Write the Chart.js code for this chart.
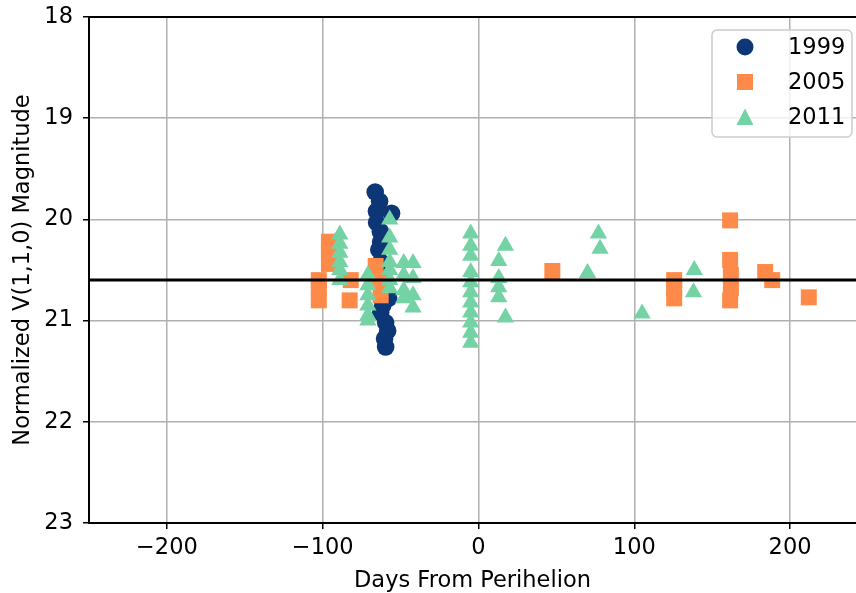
<!DOCTYPE html>
<html>
<head>
<meta charset="utf-8">
<script src="https://cdn.jsdelivr.net/npm/chart.js@4.4.1/dist/chart.umd.min.js"></script>
<style>
  html, body { margin: 0; padding: 0; background: #ffffff; }
  #wrap { width: 856px; height: 593px; position: relative; }
</style>
</head>
<body>
<div id="wrap"><canvas id="c" width="856" height="593"></canvas></div>
<script>
// ---- data ----
const seriesNames = ['1999', '2005', '2011'];

const days1999 = [-66.3, -63.5, -65.5, -65.4, -55.8, -63, -62.8, -64, -62.8, -61.5, -60, -60.9, -57.7, -61.5, -62.8, -59.6, -58.3, -60.3, -59.6];
const mag1999  = [19.73, 19.82, 19.92, 20.03, 19.94, 20.12, 20.22, 20.3, 20.42, 20.5, 20.6, 20.7, 20.78, 20.85, 20.92, 21.02, 21.1, 21.18, 21.26];

const days2005 = [-102.5, -102.5, -102.5, -96, -96, -96, -82, -82.7, -66, -64, -62.8, 47.4, 125.6, 125.6, 125.6, 161.5, 161.5, 162, 162, 161.5, 184, 188.5, 212];
const mag2005  = [20.6, 20.68, 20.8, 20.22, 20.32, 20.44, 20.6, 20.8, 20.46, 20.6, 20.75, 20.51, 20.6, 20.68, 20.78, 20.01, 20.4, 20.55, 20.68, 20.8, 20.52, 20.6, 20.77];

const days2011 = [-89, -89, -89, -89, -89, -89,
                  -71, -71, -71, -71, -71, -71,
                  -57, -57, -57, -57, -57, -57, -57,
                  -48, -48, -48, -48,
                  -42, -42, -42, -42,
                  -5, -5, -5, -5, -5, -5, -5, -5, -5, -5, -5,
                  13, 13, 13, 13, 17.3, 17.3,
                  70, 77, 78, 105, 138.5, 138];
const mag2011  = [20.15, 20.24, 20.33, 20.42, 20.5, 20.6,
                  20.55, 20.65, 20.75, 20.85, 20.95, 21.0,
                  20.0, 20.18, 20.3, 20.42, 20.5, 20.6, 20.68,
                  20.43, 20.55, 20.7, 20.78,
                  20.43, 20.58, 20.75, 20.87,
                  20.14, 20.26, 20.36, 20.52, 20.62, 20.72, 20.82, 20.92, 21.02, 21.12, 21.22,
                  20.41, 20.58, 20.67, 20.77, 20.26, 20.97,
                  20.53, 20.14, 20.29, 20.93, 20.5, 20.72];

const referenceMag = 20.6;
const xTicks = [-200, -100, 0, 100, 200];
const yTicks = [18, 19, 20, 21, 22, 23];
const xRange = [-250, 242.3];
const yRange = [18, 23];

// ---- styles ----
const colors = { '1999': '#0d3677', '2005': '#fd8a48', '2011': '#74d3a5' };
const FONT = 'DejaVu Sans';
const FS = 22.5;

function pts(xs, ys) { return xs.map((x, i) => ({ x: x, y: ys[i] })); }

const topSpine = {
  id: 'topSpine',
  afterDraw(chart) {
    const { ctx, chartArea } = chart;
    ctx.save();
    ctx.strokeStyle = '#000';
    ctx.lineWidth = 2;
    ctx.beginPath();
    ctx.moveTo(chartArea.left - 1, chartArea.top);
    ctx.lineTo(chartArea.right, chartArea.top);
    ctx.stroke();
    ctx.restore();
  }
};

const boxLegend = {
  id: 'boxLegend',
  afterDraw(chart) {
    const ctx = chart.ctx;
    const bx = 712, by = 30, bw = 140, bh = 107, r = 5;
    ctx.save();
    ctx.beginPath();
    ctx.moveTo(bx + r, by);
    ctx.lineTo(bx + bw - r, by); ctx.arcTo(bx + bw, by, bx + bw, by + r, r);
    ctx.lineTo(bx + bw, by + bh - r); ctx.arcTo(bx + bw, by + bh, bx + bw - r, by + bh, r);
    ctx.lineTo(bx + r, by + bh); ctx.arcTo(bx, by + bh, bx, by + bh - r, r);
    ctx.lineTo(bx, by + r); ctx.arcTo(bx, by, bx + r, by, r);
    ctx.closePath();
    ctx.fillStyle = 'rgba(255,255,255,0.8)';
    ctx.fill();
    ctx.strokeStyle = '#cccccc';
    ctx.lineWidth = 1.5;
    ctx.stroke();

    const mx = 745, tx = 788;
    const rows = [47, 82, 117];
    seriesNames.forEach((name, i) => {
      const y = rows[i];
      ctx.fillStyle = colors[name];
      ctx.beginPath();
      if (i === 0) {
        ctx.arc(mx, y, 8.5, 0, Math.PI * 2);
      } else if (i === 1) {
        ctx.rect(mx - 8, y - 8, 16, 16);
      } else {
        ctx.moveTo(mx, y - 8.5);
        ctx.lineTo(mx + 8.5, y + 8);
        ctx.lineTo(mx - 8.5, y + 8);
        ctx.closePath();
      }
      ctx.fill();
      ctx.fillStyle = '#000';
      ctx.font = FS + 'px "' + FONT + '"';
      ctx.textBaseline = 'middle';
      ctx.textAlign = 'left';
      ctx.fillText(name, tx, y + 1);
    });
    ctx.restore();
  }
};

new Chart(document.getElementById('c'), {
  type: 'scatter',
  data: {
    datasets: [
      {
        type: 'line',
        label: 'mean',
        data: [{ x: xRange[0], y: referenceMag }, { x: xRange[1], y: referenceMag }],
        borderColor: '#000',
        borderWidth: 3,
        pointRadius: 0,
        fill: false,
        order: 0
      },
      {
        label: seriesNames[2],
        data: pts(days2011, mag2011),
        pointStyle: 'triangle',
        pointRadius: 10,
        backgroundColor: colors['2011'],
        borderColor: colors['2011'],
        borderWidth: 0,
        order: 1
      },
      {
        label: seriesNames[1],
        data: pts(days2005, mag2005),
        pointStyle: 'rect',
        pointRadius: 11.3,
        backgroundColor: colors['2005'],
        borderColor: colors['2005'],
        borderWidth: 0,
        order: 2
      },
      {
        label: seriesNames[0],
        data: pts(days1999, mag1999),
        pointStyle: 'circle',
        pointRadius: 8.8,
        backgroundColor: colors['1999'],
        borderColor: colors['1999'],
        borderWidth: 0,
        order: 3
      }
    ]
  },
  options: {
    responsive: false,
    animation: false,
    devicePixelRatio: 1,
    layout: { autoPadding: false, padding: { top: 17, right: 0, left: 0, bottom: 0 } },
    plugins: {
      legend: { display: false },
      tooltip: { enabled: false }
    },
    scales: {
      x: {
        type: 'linear',
        min: xRange[0],
        max: xRange[1],
        afterBuildTicks(scale) { scale.ticks = xTicks.map(v => ({ value: v })); },
        afterFit(scale) { scale.height = 70; scale.paddingLeft = 0; scale.paddingRight = 0; },
        ticks: {
          color: '#000',
          font: { family: FONT, size: FS },
          padding: 6,
          maxRotation: 0,
          callback: v => (v < 0 ? '\u2212' + Math.abs(v) : String(v))
        },
        grid: { color: '#b0b0b0', lineWidth: 1.5, tickColor: '#000', tickLength: 6, drawTicks: true },
        border: { display: true, color: '#000', width: 2 },
        title: {
          display: true,
          text: 'Days From Perihelion',
          color: '#000',
          font: { family: FONT, size: FS },
          padding: { top: 0, bottom: -2 }
        }
      },
      y: {
        type: 'linear',
        reverse: true,
        min: yRange[0],
        max: yRange[1],
        afterBuildTicks(scale) { scale.ticks = yTicks.map(v => ({ value: v })); },
        afterFit(scale) { scale.width = 89; scale.paddingTop = 0; scale.paddingBottom = 0; },
        ticks: {
          color: '#000',
          font: { family: FONT, size: FS },
          padding: 10,
          callback: v => String(v)
        },
        grid: { color: '#b0b0b0', lineWidth: 1.5, tickColor: '#000', tickLength: 6, drawTicks: true },
        border: { display: true, color: '#000', width: 2 },
        title: {
          display: true,
          text: 'Normalized V(1,1,0) Magnitude',
          color: '#000',
          font: { family: FONT, size: FS },
          padding: { top: 10, bottom: 0 }
        }
      }
    }
  },
  plugins: [topSpine, boxLegend]
});
</script>
</body>
</html>
